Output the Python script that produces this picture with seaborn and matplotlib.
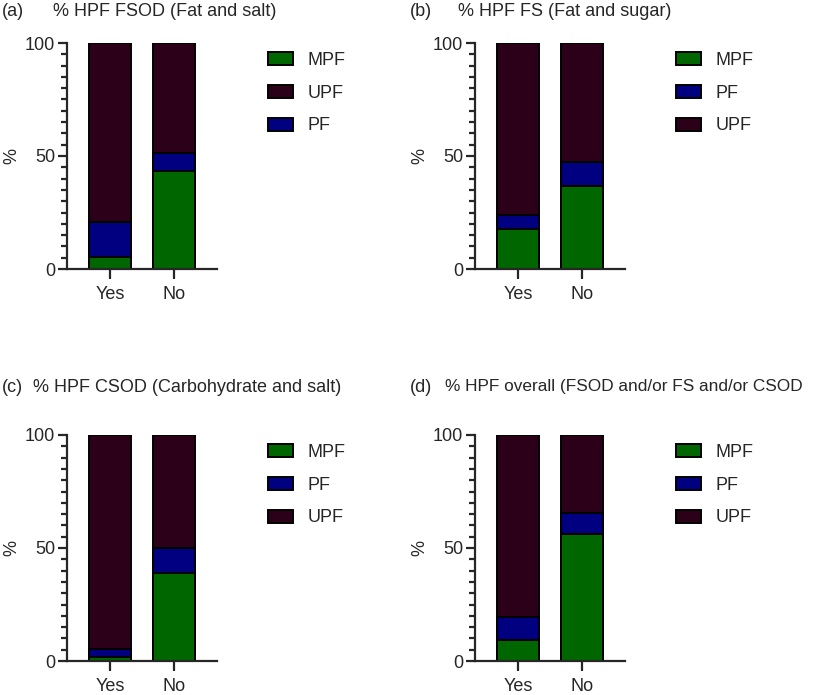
import matplotlib
matplotlib.use("Agg")
import matplotlib.pyplot as plt
import seaborn as sns
from matplotlib.patches import Patch
from matplotlib.ticker import MultipleLocator

# -------------------------
# data (% of items in each processing group)
# -------------------------
groups = ["Yes", "No"]

fsod_mpf = [5.1, 43.3]
fsod_pf = [15.5, 7.9]
fsod_upf = [79.4, 48.8]

fs_mpf = [17.7, 36.8]
fs_pf = [6.0, 10.4]
fs_upf = [76.3, 52.8]

csod_mpf = [1.8, 39.1]
csod_pf = [3.7, 10.8]
csod_upf = [94.5, 50.1]

overall_mpf = [9.2, 56.4]
overall_pf = [10.3, 9.2]
overall_upf = [80.5, 34.4]

panel_tags = ["(a)", "(b)", "(c)", "(d)"]
panel_titles = [
    "% HPF FSOD (Fat and salt)",
    "% HPF FS (Fat and sugar)",
    "% HPF CSOD (Carbohydrate and salt)",
    "% HPF overall (FSOD and/or FS and/or CSOD",
]
legend_orders = [
    ["MPF", "UPF", "PF"],
    ["MPF", "PF", "UPF"],
    ["MPF", "PF", "UPF"],
    ["MPF", "PF", "UPF"],
]

colors = {"MPF": "#006600", "PF": "#000080", "UPF": "#2d0019"}

sns.set_theme(style="ticks")
plt.rcParams['font.family'] = ['Liberation Sans', 'DejaVu Sans']
plt.rcParams['axes.linewidth'] = 1.6

fig = plt.figure(figsize=(8.16, 6.95), dpi=100)
W, H = 816, 695
FS = 13


def px_axes(x0, y_top, x1, y_bot):
    return fig.add_axes([x0 / W, 1 - y_bot / H, (x1 - x0) / W, (y_bot - y_top) / H])


axes = [
    px_axes(67, 43, 217, 269),
    px_axes(475, 43, 625, 269),
    px_axes(67, 435, 217, 661),
    px_axes(475, 435, 625, 661),
]

data = [
    (fsod_mpf, fsod_pf, fsod_upf),
    (fs_mpf, fs_pf, fs_upf),
    (csod_mpf, csod_pf, csod_upf),
    (overall_mpf, overall_pf, overall_upf),
]

for ax, (mpf, pf, upf), order in zip(axes, data, legend_orders):
    tot_pf = [m + p for m, p in zip(mpf, pf)]
    tot_upf = [t + u for t, u in zip(tot_pf, upf)]
    # stacked by overdrawing cumulative totals
    sns.barplot(x=groups, y=tot_upf, color=colors["UPF"], edgecolor="black",
                linewidth=1.4, width=0.65, saturation=1, ax=ax)
    sns.barplot(x=groups, y=tot_pf, color=colors["PF"], edgecolor="black",
                linewidth=1.4, width=0.65, saturation=1, ax=ax)
    sns.barplot(x=groups, y=mpf, color=colors["MPF"], edgecolor="black",
                linewidth=1.4, width=0.65, saturation=1, ax=ax)

    ax.set_xlim(-0.67, 1.67)
    ax.set_ylim(0, 100)
    ax.set_yticks([0, 50, 100])
    ax.yaxis.set_minor_locator(MultipleLocator(5))
    ax.tick_params(axis="y", which="major", length=6.5, width=1.6, labelsize=FS, pad=2)
    ax.tick_params(axis="y", which="minor", length=4.3, width=1.6)
    ax.tick_params(axis="x", which="major", length=7, width=1.6, labelsize=FS, pad=5)
    ax.set_ylabel("%", fontsize=FS, va="center")
    ax.yaxis.set_label_coords(-0.37, 0.5)
    ax.set_xlabel("")
    sns.despine(ax=ax)

    handles = [Patch(facecolor=colors[k], edgecolor="black", linewidth=1.4, label=k) for k in order]
    ax.legend(handles=handles, loc="upper left", bbox_to_anchor=(1.34, 0.96),
              frameon=False, fontsize=FS, handlelength=1.4, handleheight=0.75,
              labelspacing=0.87, handletextpad=0.8, borderpad=0, borderaxespad=0)

# panel headings
tag_pos = [(2, 12), (410, 12), (2, 387), (410, 387)]
title_x = [53, 458, 33, 445]
title_fs = [13, 13, 13, 12.4]
for tag, title, (tx, ty), hx, tfs in zip(panel_tags, panel_titles, tag_pos, title_x, title_fs):
    fig.text(tx / W, 1 - ty / H, tag, fontsize=FS, va="center", ha="left")
    fig.text(hx / W, 1 - ty / H, title, fontsize=tfs, va="center", ha="left")

fig.savefig("out.png", dpi=100)
